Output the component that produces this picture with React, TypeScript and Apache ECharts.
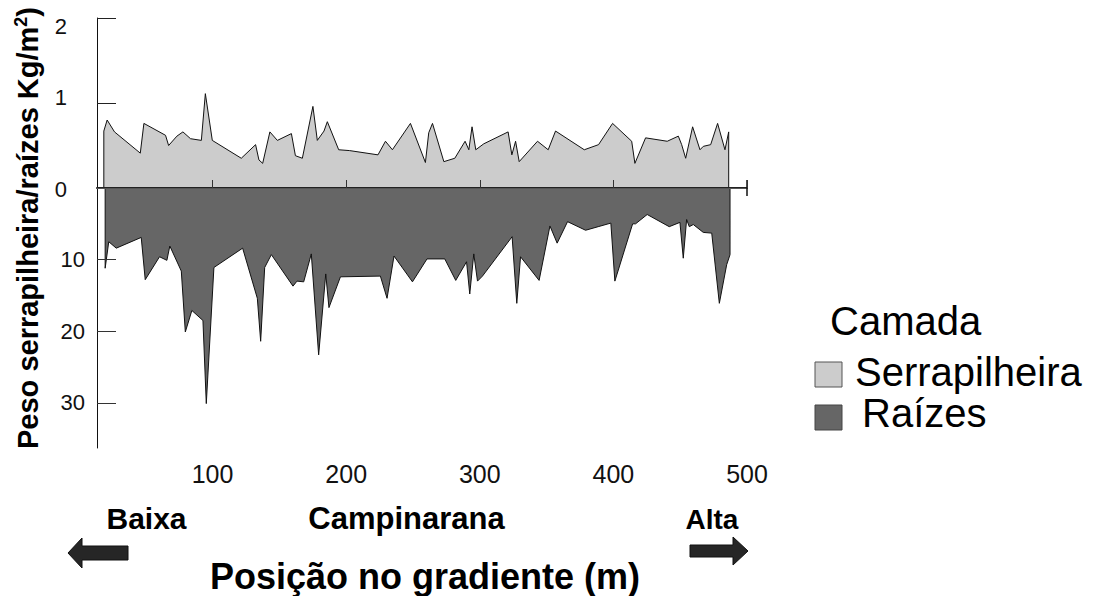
import React, { useEffect, useRef } from "react";
import * as echarts from "echarts";

// Serrapilheira (litter), kg/m2 — upper panel
const litterX = [18.6, 21.1, 26.6, 45.9, 48.6, 64.8, 67.1, 73.3, 77.8, 83.5, 91.6, 94.6, 99.8, 121.5, 132.2, 134.7, 137.5, 142.9, 148.5, 159, 162, 167.2, 175.1, 178.4, 183.4, 185.9, 194.4, 202.6, 223.8, 229.4, 234.6, 248.1, 259.3, 261.8, 264.6, 273.1, 281.3, 289, 291.8, 294.2, 297, 303, 321.2, 324, 326.8, 329.5, 343.2, 351.2, 356.7, 378.2, 388.9, 399.4, 413.7, 416.1, 424.1, 440.3, 448.6, 451.1, 454.1, 459.3, 464.8, 467.3, 472.8, 478, 483.5, 486.3];
const litterKg = [0.67, 0.80, 0.66, 0.41, 0.76, 0.62, 0.50, 0.61, 0.66, 0.58, 0.56, 1.11, 0.56, 0.35, 0.51, 0.33, 0.29, 0.66, 0.56, 0.64, 0.38, 0.35, 0.96, 0.56, 0.67, 0.78, 0.45, 0.44, 0.39, 0.55, 0.45, 0.76, 0.30, 0.65, 0.76, 0.31, 0.35, 0.55, 0.45, 0.72, 0.45, 0.52, 0.66, 0.39, 0.55, 0.31, 0.55, 0.45, 0.67, 0.45, 0.51, 0.76, 0.55, 0.29, 0.59, 0.55, 0.61, 0.51, 0.35, 0.72, 0.45, 0.49, 0.51, 0.76, 0.45, 0.66];

// Raízes (roots) — lower panel (downward)
const rootX = [19.6, 22.3, 27.9, 46.6, 49.6, 60.3, 65.8, 68.0, 76.6, 79.6, 84.5, 92.8, 95.3, 101, 122.5, 133.5, 136, 139, 144, 160.2, 163.2, 168.2, 173.9, 179.4, 184.7, 187.1, 195.7, 225.6, 230.6, 235.8, 249.6, 260.5, 273.8, 282, 290.1, 292.5, 295.5, 298.3, 302, 324.2, 327.7, 330.5, 344.4, 352.5, 357.9, 365.7, 379.2, 388.6, 398.1, 401.1, 414.4, 416.6, 425.3, 441.8, 449.8, 452.3, 454.8, 456.8, 459.8, 467.3, 473.6, 479.3, 484.8, 487.3];
const rootVals = [11.2, 7.5, 8.4, 6.9, 12.8, 9.6, 10.1, 8.1, 11.6, 20.1, 17.1, 18.5, 30.1, 11.1, 8.4, 15.4, 21.4, 11.1, 9.3, 13.7, 13.0, 13.1, 9.2, 23.3, 12.0, 16.7, 12.4, 12.3, 15.4, 9.5, 13.1, 9.9, 9.9, 12.9, 10.3, 14.8, 9.2, 13.0, 12.3, 6.8, 16.1, 9.6, 12.9, 5.3, 7.7, 4.7, 5.9, 5.4, 4.9, 13.0, 5.0, 5.0, 3.7, 5.4, 4.8, 9.8, 4.4, 5.4, 5.1, 6.2, 6.3, 16.1, 10.7, 9.3];

const xTicks = [100, 200, 300, 400, 500];
const upperTicks = [0, 1, 2];
const lowerTicks = [10, 20, 30];
const xMin = 13.5;
const xMax = 500;
const upperMax = 2;
const lowerMax = 36.3;

const seriesNames = ["Serrapilheira", "Raízes"];
const legendTitle = "Camada";
const yTitle = "Peso serrapilheira/raízes Kg/m";
const xTitle = "Posição no gradiente (m)";
const zoneLabels = ["Baixa", "Campinarana", "Alta"];

const FONT = "Liberation Sans, Arial, sans-serif";

function closed(xs: number[], ys: number[]) {
  const d: number[][] = [[xs[0], 0]];
  xs.forEach((x, i) => d.push([x, ys[i]]));
  d.push([xs[xs.length - 1], 0]);
  return d;
}

export default function App() {
  const ref = useRef<HTMLDivElement>(null);
  useEffect(() => {
    const chart = echarts.init(ref.current!, null, { renderer: "svg" });
    const option: any = {
      animation: false,
      backgroundColor: "#ffffff",
      textStyle: { fontFamily: FONT },
      grid: [
        { left: 97, width: 650, top: 18, height: 170 },
        { left: 97, width: 650, top: 188, height: 260 },
      ],
      xAxis: [
        {
          type: "value", gridIndex: 0, min: xMin, max: xMax, position: "bottom", z: 10,
          axisLine: { show: true, lineStyle: { color: "#222", width: 2 } },
          axisTick: { show: true, inside: true, length: 8, customValues: [500], lineStyle: { color: "#111", width: 1.5 } },
          axisLabel: { show: false }, splitLine: { show: false },
        },
        {
          type: "value", gridIndex: 1, min: xMin, max: xMax, position: "bottom", z: 10,
          axisLine: { show: true, lineStyle: { color: "#555", width: 1 } },
          axisTick: { show: true, inside: true, length: 8, customValues: xTicks, lineStyle: { color: "#333" } },
          axisLabel: { show: true, customValues: xTicks, fontSize: 25, color: "#111", margin: 13, fontFamily: FONT },
          splitLine: { show: false },
        },
        {
          type: "value", gridIndex: 1, min: xMin, max: xMax, position: "top", z: 10,
          axisLine: { show: false },
          axisTick: { show: true, inside: true, length: 8, customValues: [500], lineStyle: { color: "#111", width: 1.5 } },
          axisLabel: { show: false }, splitLine: { show: false },
        },
      ],
      yAxis: [
        {
          type: "value", gridIndex: 0, min: 0, max: upperMax, z: 10,
          axisLine: { show: true, lineStyle: { color: "#111", width: 1 } },
          axisTick: { show: true, inside: true, length: 19, customValues: [1, 2], lineStyle: { color: "#222" } },
          axisLabel: {
            show: true, customValues: upperTicks, fontSize: 22, color: "#111", margin: 30, fontFamily: FONT,
            formatter: (v: number) => (v === 2 ? "{d|2}" : v === 1 ? "{u|1}" : "{n|0}"),
            rich: {
              d: { fontSize: 22, padding: [16, 0, 0, 0], fontFamily: FONT },
              u: { fontSize: 22, padding: [0, 0, 12, 0], fontFamily: FONT },
              n: { fontSize: 22, padding: [2, 0, 0, 0], fontFamily: FONT },
            },
          },
          splitLine: { show: false },
        },
        {
          type: "value", gridIndex: 1, min: 0, max: lowerMax, inverse: true, z: 10,
          axisLine: { show: true, lineStyle: { color: "#111", width: 1 } },
          axisTick: { show: true, inside: true, length: 19, customValues: lowerTicks, lineStyle: { color: "#333" } },
          axisLabel: { show: true, customValues: lowerTicks, fontSize: 22, color: "#111", margin: 12, fontFamily: FONT },
          splitLine: { show: false },
        },
      ],
      series: [
        {
          name: seriesNames[0], type: "line", xAxisIndex: 0, yAxisIndex: 0,
          data: closed(litterX, litterKg), symbol: "none",
          lineStyle: { color: "#111", width: 1 },
          areaStyle: { color: "#cccccc", opacity: 1 },
        },
        {
          name: seriesNames[1], type: "line", xAxisIndex: 1, yAxisIndex: 1,
          data: closed(rootX, rootVals), symbol: "none",
          lineStyle: { color: "#111", width: 1 },
          areaStyle: { color: "#666666", opacity: 1 },
        },
      ],
      graphic: [
        {
          type: "text", x: 28, y: 228, rotation: Math.PI / 2,
          style: {
            text: "{a|" + yTitle + "}{s|2}{a|)}",
            align: "center", verticalAlign: "middle",
            rich: {
              a: { fontSize: 29, fontWeight: "bold", fontFamily: FONT, fill: "#000", lineHeight: 32 },
              s: { fontSize: 18, fontWeight: "bold", fontFamily: FONT, fill: "#000", verticalAlign: "top", lineHeight: 32 },
            },
          },
        },
        { type: "text", x: 146.5, y: 518, style: { text: zoneLabels[0], font: "bold 30px " + FONT, fill: "#000", align: "center", verticalAlign: "middle" } },
        { type: "text", x: 406.5, y: 518, style: { text: zoneLabels[1], font: "bold 31px " + FONT, fill: "#000", align: "center", verticalAlign: "middle" } },
        { type: "text", x: 712, y: 519, style: { text: zoneLabels[2], font: "bold 28px " + FONT, fill: "#000", align: "center", verticalAlign: "middle" } },
        { type: "text", x: 425, y: 576, style: { text: xTitle, font: "bold 36px " + FONT, fill: "#000", align: "center", verticalAlign: "middle" } },
        {
          type: "polygon",
          shape: { points: [[68, 553], [82, 538], [82, 546], [128, 546], [128, 560], [82, 560], [82, 568]] },
          style: { fill: "#262626", stroke: "#111", lineWidth: 1 },
        },
        {
          type: "polygon",
          shape: { points: [[748, 551], [733, 537], [733, 545], [690, 545], [690, 557], [733, 557], [733, 565]] },
          style: { fill: "#262626", stroke: "#111", lineWidth: 1 },
        },
        { type: "text", x: 830, y: 321, style: { text: legendTitle, font: "40px " + FONT, fill: "#000", align: "left", verticalAlign: "middle" } },
        { type: "rect", shape: { x: 815, y: 362, width: 27, height: 25 }, style: { fill: "#cccccc", stroke: "#555", lineWidth: 1 } },
        { type: "text", x: 855, y: 372, style: { text: seriesNames[0], font: "40px " + FONT, fill: "#000", align: "left", verticalAlign: "middle" } },
        { type: "rect", shape: { x: 815, y: 405, width: 27, height: 25 }, style: { fill: "#666666", stroke: "#444", lineWidth: 1 } },
        { type: "text", x: 862, y: 413, style: { text: seriesNames[1], font: "40px " + FONT, fill: "#000", align: "left", verticalAlign: "middle" } },
      ],
    };
    chart.setOption(option);
    return () => chart.dispose();
  }, []);
  return <div ref={ref} style={{ position: "absolute", left: 0, top: 0, width: 1106, height: 596 }} />;
}
